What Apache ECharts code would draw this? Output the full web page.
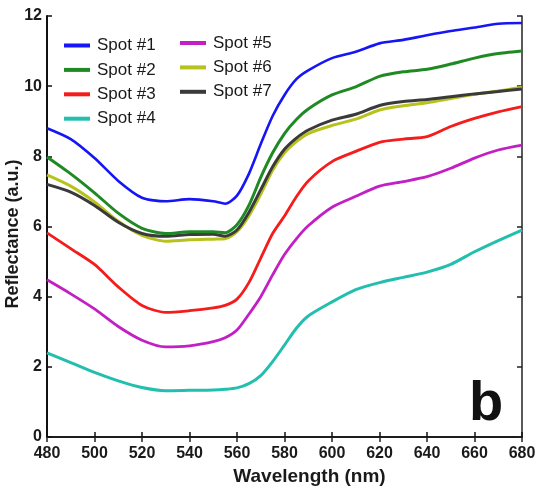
<!DOCTYPE html>
<html>
<head>
<meta charset="utf-8">
<style>
  html, body { margin: 0; padding: 0; background: #fff; }
  #chart { width: 539px; height: 490px; }
</style>
<script src="https://cdn.jsdelivr.net/npm/echarts@6/dist/echarts.min.js"></script>
</head>
<body>
<div id="chart"></div>
<script>
// Wavelength samples (nm)
const wavelength = [480, 490, 500, 510, 520, 530, 540, 550, 555, 560, 565, 570, 575, 580, 585, 590, 600, 610, 620, 630, 640, 650, 660, 670, 680];

// Reflectance spectra (a.u.) for each spot
const spot1 = [8.80, 8.49, 7.95, 7.30, 6.82, 6.72, 6.78, 6.72, 6.65, 6.88, 7.50, 8.35, 9.15, 9.75, 10.20, 10.45, 10.80, 10.98, 11.22, 11.32, 11.45, 11.57, 11.67, 11.78, 11.80];
const spot2 = [7.98, 7.50, 6.96, 6.38, 5.95, 5.80, 5.85, 5.85, 5.82, 6.05, 6.60, 7.40, 8.10, 8.65, 9.05, 9.35, 9.75, 9.98, 10.28, 10.41, 10.48, 10.63, 10.80, 10.93, 11.00];
const spot3 = [5.82, 5.37, 4.92, 4.28, 3.75, 3.55, 3.60, 3.68, 3.75, 3.93, 4.40, 5.10, 5.80, 6.30, 6.85, 7.30, 7.85, 8.14, 8.40, 8.49, 8.56, 8.85, 9.08, 9.27, 9.42];
const spot4 = [2.40, 2.12, 1.84, 1.60, 1.41, 1.32, 1.33, 1.34, 1.36, 1.40, 1.52, 1.75, 2.15, 2.62, 3.10, 3.45, 3.85, 4.20, 4.40, 4.55, 4.70, 4.92, 5.28, 5.60, 5.90];
const spot5 = [4.48, 4.08, 3.65, 3.15, 2.76, 2.57, 2.60, 2.72, 2.83, 3.05, 3.50, 4.00, 4.62, 5.20, 5.65, 6.02, 6.55, 6.86, 7.15, 7.28, 7.42, 7.66, 7.95, 8.18, 8.32];
const spot6 = [7.47, 7.15, 6.70, 6.15, 5.75, 5.58, 5.62, 5.64, 5.65, 5.85, 6.30, 6.92, 7.60, 8.10, 8.42, 8.65, 8.88, 9.06, 9.32, 9.44, 9.53, 9.65, 9.77, 9.86, 9.97];
const spot7 = [7.20, 6.98, 6.60, 6.12, 5.80, 5.72, 5.77, 5.78, 5.72, 5.90, 6.40, 7.05, 7.70, 8.20, 8.52, 8.75, 9.03, 9.20, 9.45, 9.56, 9.62, 9.70, 9.78, 9.85, 9.92];

const names = ['Spot #1', 'Spot #2', 'Spot #3', 'Spot #4', 'Spot #5', 'Spot #6', 'Spot #7'];
const spectra = [spot1, spot2, spot3, spot4, spot5, spot6, spot7];
const colors = ['#1515f5', '#1f8a24', '#f51c1c', '#22bfae', '#c21fc4', '#b7c21c', '#3a3a3a'];
const widths = [2.6, 3, 2.8, 3, 2.8, 3, 3];

const xTicks = { min: 480, max: 680, interval: 20 };
const yTicks = { min: 0, max: 12, interval: 2 };

const FONT = '"Liberation Sans", Arial, sans-serif';
const INK = '#1a1a1a';

// Draw order: lower spectra first, the dark gray one on top of the yellow one
const drawOrder = [3, 4, 2, 5, 6, 1, 0];

const series = drawOrder.map(i => ({
  name: names[i],
  type: 'line',
  data: wavelength.map((w, k) => [w, spectra[i][k]]),
  symbol: 'none',
  smooth: 0.25,
  color: colors[i],
  lineStyle: { width: widths[i], color: colors[i] },
  z: 3
}));

const legendBase = {
  orient: 'vertical',
  icon: 'rect',
  padding: 0,
  itemWidth: 26,
  itemHeight: 4,
  itemGap: 7.4,
  textStyle: { fontFamily: FONT, fontSize: 17, color: INK, lineHeight: 17, padding: [0, 0, 0, 2] },
  backgroundColor: 'transparent'
};

const chart = echarts.init(document.getElementById('chart'), null, { renderer: 'canvas' });
chart.setOption({
  animation: false,
  backgroundColor: '#ffffff',
  grid: { left: 47, right: 17, top: 16, bottom: 53, containLabel: false, outerBoundsMode: 'none' },
  legend: [
    Object.assign({}, legendBase, { left: 64, top: 37, data: names.slice(0, 4) }),
    Object.assign({}, legendBase, { left: 180, top: 34.5, data: names.slice(4) })
  ],
  xAxis: [
    {
      type: 'value', min: xTicks.min, max: xTicks.max, interval: xTicks.interval,
      position: 'bottom',
      name: 'Wavelength (nm)', nameLocation: 'middle', nameGap: 29,
      nameTextStyle: { fontFamily: FONT, fontSize: 19, fontWeight: 'bold', color: INK, padding: [0, 0, 0, 50] },
      axisLine: { lineStyle: { color: '#111', width: 2 } },
      axisTick: { inside: true, length: 5, lineStyle: { color: '#111', width: 1.5 } },
      axisLabel: { fontFamily: FONT, fontSize: 16, fontWeight: 'bold', color: INK, margin: 9 },
      splitLine: { show: false }
    },
    {
      type: 'value', min: xTicks.min, max: xTicks.max, interval: xTicks.interval,
      position: 'top',
      axisLine: { lineStyle: { color: '#222', width: 1.5 } },
      axisTick: { inside: true, length: 5, lineStyle: { color: '#222', width: 1.5 } },
      axisLabel: { show: false },
      splitLine: { show: false }
    }
  ],
  yAxis: [
    {
      type: 'value', min: yTicks.min, max: yTicks.max, interval: yTicks.interval,
      position: 'left',
      name: 'Reflectance (a.u.)', nameLocation: 'middle', nameGap: 25, nameMoveOverlap: false,
      nameTextStyle: { fontFamily: FONT, fontSize: 18, fontWeight: 'bold', color: INK, padding: [0, 15, 0, 0] },
      axisLine: { lineStyle: { color: '#111', width: 2 } },
      axisTick: { inside: true, length: 5, lineStyle: { color: '#111', width: 1.5 } },
      axisLabel: { fontFamily: FONT, fontSize: 16, fontWeight: 'bold', color: INK, margin: 5 },
      splitLine: { show: false }
    },
    {
      type: 'value', min: yTicks.min, max: yTicks.max, interval: yTicks.interval,
      position: 'right',
      axisLine: { lineStyle: { color: '#222', width: 1.5 } },
      axisTick: { inside: true, length: 5, lineStyle: { color: '#222', width: 1.5 } },
      axisLabel: { show: false },
      splitLine: { show: false }
    }
  ],
  graphic: [
    {
      type: 'text', left: 469, top: 377, z: 10,
      style: { text: 'b', font: 'bold 56px ' + FONT, fill: '#111' }
    }
  ],
  series: series
});
</script>
</body>
</html>
